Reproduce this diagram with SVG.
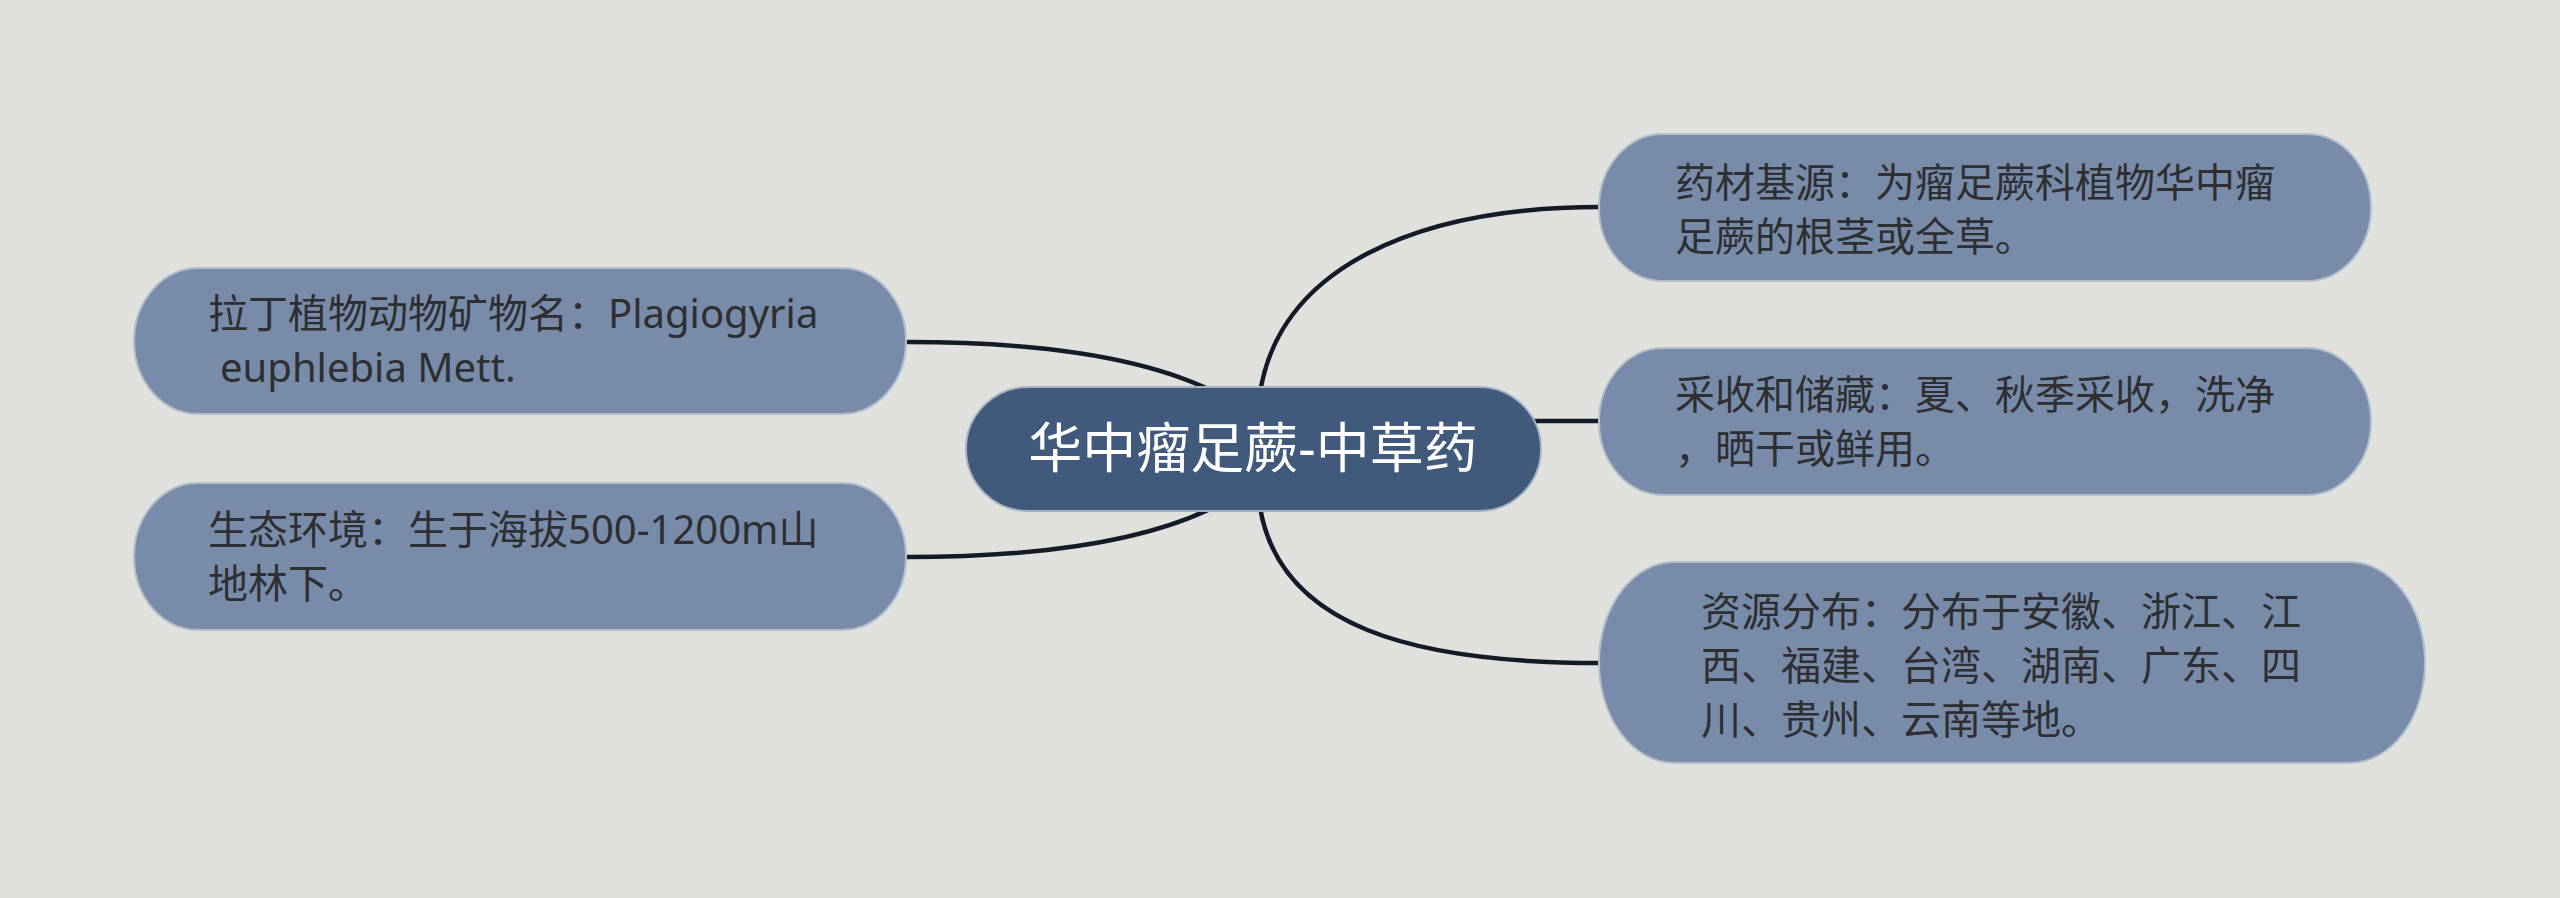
<svg xmlns="http://www.w3.org/2000/svg" width="2560" height="898" viewBox="0 0 2560 898">
<style>
.bg{fill:#e0e1dd}
.node{fill:#788ca9;stroke:#b4bfcd;stroke-width:2}
.root{fill:#41597a;stroke:#a7b3c4;stroke-width:2}
.t{font-family:"Noto Sans","Noto Sans CJK SC",sans-serif;font-size:40px;fill:#2e2f33}
.rt{font-family:"Noto Sans","Noto Sans CJK SC",sans-serif;font-size:54px;fill:#ffffff}
.edge{fill:none;stroke:#141b28;stroke-width:4.5;stroke-linecap:round}
</style>
<rect class="bg" x="0" y="0" width="2560" height="898"/>
<g id="connectors">
<path class="edge" d="M907,342 C1040,342 1150,358 1220,395"/>
<path class="edge" d="M907,557 C1040,557 1150,541 1220,504"/>
<path class="edge" d="M1259,400 C1275,266 1420,207 1600,207"/>
<path class="edge" d="M1530,421 L1600,421"/>
<path class="edge" d="M1259,500 C1275,630 1420,663 1600,663"/>
</g>
<g id="root">
<rect class="root" x="966" y="387" width="575" height="124" rx="62" ry="62"/>
<text class="rt" x="1253" y="468" text-anchor="middle">华中瘤足蕨-中草药</text>
</g>
<g id="node-latin">
<rect class="node" x="134" y="268" width="772" height="146" rx="64" ry="73"/>
<text class="t" x="208" y="328">拉丁植物动物矿物名：Plagiogyria</text>
<text class="t" x="220" y="382">euphlebia Mett.</text>
</g>
<g id="node-ecology">
<rect class="node" x="134" y="483" width="772" height="147" rx="64" ry="73"/>
<text class="t" x="208" y="544">生态环境：生于海拔500-1200m山</text>
<text class="t" x="208" y="598">地林下。</text>
</g>
<g id="node-source">
<rect class="node" x="1599" y="134" width="772" height="147" rx="64" ry="73"/>
<text class="t" x="1675" y="197">药材基源：为瘤足蕨科植物华中瘤</text>
<text class="t" x="1675" y="251">足蕨的根茎或全草。</text>
</g>
<g id="node-harvest">
<rect class="node" x="1599" y="348" width="772" height="147" rx="64" ry="73"/>
<text class="t" x="1675" y="409">采收和储藏：夏、秋季采收，洗净</text>
<text class="t" x="1675" y="463">，晒干或鲜用。</text>
</g>
<g id="node-distribution">
<rect class="node" x="1599" y="562" width="826" height="201" rx="75" ry="100"/>
<text class="t" x="1701" y="626">资源分布：分布于安徽、浙江、江</text>
<text class="t" x="1701" y="680">西、福建、台湾、湖南、广东、四</text>
<text class="t" x="1701" y="734">川、贵州、云南等地。</text>
</g>
</svg>
